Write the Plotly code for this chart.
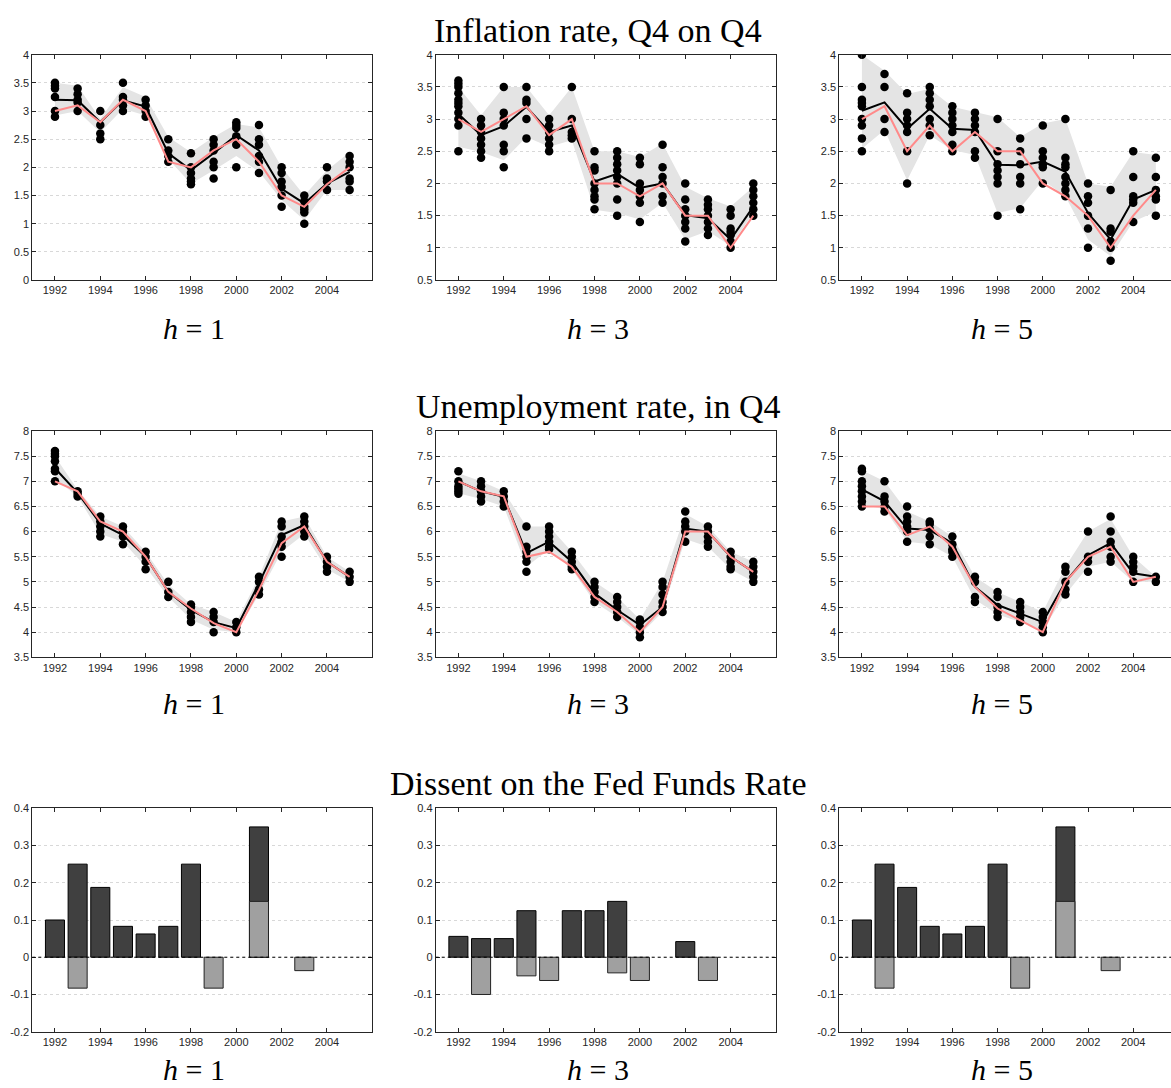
import plotly.graph_objects as go

years = list(range(1992, 2006))
xtick_vals = [1992, 1994, 1996, 1998, 2000, 2002, 2004]
xtick_text = ["1992", "1994", "1996", "1998", "2000", "2002", "2004"]

row_titles = ["Inflation rate, Q4 on Q4", "Unemployment rate, in Q4", "Dissent on the Fed Funds Rate"]
col_labels = ["<i>h</i> = 1", "<i>h</i> = 3", "<i>h</i> = 5"]

# ---------------- Inflation, h=1 ----------------
infl_h1_points = [
    [3.5, 3.45, 3.4, 3.25, 3.0, 2.9], [3.4, 3.3, 3.2, 3.15, 3.0], [3.0, 2.75, 2.6, 2.5],
    [3.5, 3.25, 3.2, 3.1, 3.0], [3.2, 3.1, 3.0, 2.9], [2.5, 2.3, 2.2, 2.1],
    [2.25, 2.0, 1.9, 1.8, 1.75, 1.7], [2.5, 2.4, 2.3, 2.1, 2.0, 1.8], [2.8, 2.75, 2.7, 2.55, 2.4, 2.0],
    [2.75, 2.5, 2.4, 2.2, 2.1, 1.9], [2.0, 1.9, 1.75, 1.65, 1.5, 1.3], [1.5, 1.4, 1.3, 1.25, 1.2, 1.0],
    [2.0, 1.8, 1.75, 1.6], [2.2, 2.1, 2.0, 1.8, 1.75, 1.6]]
infl_h1_mean = [3.2, 3.19, 2.8, 3.19, 3.08, 2.25, 1.95, 2.25, 2.57, 2.3, 1.62, 1.36, 1.71, 1.92]
infl_h1_actual = [3.0, 3.1, 2.8, 3.2, 3.0, 2.1, 2.0, 2.3, 2.5, 2.1, 1.5, 1.3, 1.7, 2.0]
infl_h1_hi = [3.5, 3.45, 2.86, 3.42, 3.25, 2.54, 2.27, 2.54, 2.77, 2.71, 2.0, 1.5, 1.95, 2.27]
infl_h1_lo = [2.92, 3.0, 2.62, 3.04, 2.92, 2.15, 1.71, 1.95, 2.2, 1.92, 1.42, 1.06, 1.6, 1.6]

# ---------------- Inflation, h=3 ----------------
infl_h3_points = [
    [3.6, 3.55, 3.5, 3.4, 3.3, 3.25, 3.2, 3.1, 3.0, 2.9, 2.5], [3.0, 2.9, 2.8, 2.7, 2.6, 2.5, 2.4],
    [3.5, 3.1, 3.0, 2.9, 2.6, 2.5, 2.25], [3.5, 3.3, 3.25, 3.0, 2.7], [3.0, 2.9, 2.8, 2.7, 2.6, 2.5],
    [3.5, 3.0, 2.8, 2.75, 2.7], [2.5, 2.25, 2.2, 2.0, 1.9, 1.8, 1.75, 1.6],
    [2.5, 2.4, 2.3, 2.2, 2.1, 2.0, 1.75, 1.5], [2.4, 2.3, 2.0, 1.9, 1.8, 1.7, 1.4],
    [2.6, 2.25, 2.1, 2.0, 1.8, 1.7], [2.0, 1.75, 1.6, 1.5, 1.4, 1.3, 1.1],
    [1.75, 1.67, 1.6, 1.5, 1.4, 1.3, 1.2], [1.6, 1.5, 1.3, 1.25, 1.2, 1.1, 1.0],
    [2.0, 1.9, 1.8, 1.7, 1.6, 1.5]]
infl_h3_mean = [3.08, 2.75, 2.89, 3.19, 2.8, 2.9, 2.03, 2.15, 1.93, 2.0, 1.51, 1.46, 1.13, 1.64]
infl_h3_actual = [3.0, 2.8, 3.0, 3.2, 2.75, 3.0, 2.0, 2.0, 1.8, 2.0, 1.5, 1.5, 1.0, 1.5]
infl_h3_hi = [3.5, 3.06, 3.5, 3.5, 3.06, 3.5, 2.5, 2.5, 2.41, 2.62, 1.95, 1.77, 1.64, 1.95]
infl_h3_lo = [2.57, 2.49, 2.36, 2.72, 2.57, 2.67, 1.59, 1.54, 1.44, 1.7, 1.13, 1.26, 1.03, 1.54]

# ---------------- Inflation, h=5 ----------------
infl_h5_points = [
    [4.0, 3.5, 3.3, 3.25, 3.2, 3.0, 2.9, 2.7, 2.5], [3.7, 3.5, 3.0, 2.8],
    [3.4, 3.1, 3.0, 2.9, 2.8, 2.5, 2.0], [3.5, 3.4, 3.3, 3.2, 3.0, 2.9, 2.75],
    [3.2, 3.1, 3.0, 2.9, 2.8, 2.6, 2.5], [3.1, 3.0, 2.9, 2.8, 2.5, 2.4],
    [3.0, 2.5, 2.3, 2.2, 2.1, 2.0, 1.5], [2.7, 2.5, 2.3, 2.1, 2.0, 1.6],
    [2.9, 2.5, 2.4, 2.3, 2.25, 2.0], [3.0, 2.4, 2.3, 2.25, 2.1, 2.0, 1.9, 1.8],
    [2.0, 1.8, 1.7, 1.5, 1.3, 1.0], [1.9, 1.3, 1.25, 1.1, 1.0, 0.8],
    [2.5, 2.1, 1.8, 1.75, 1.7, 1.4], [2.4, 2.1, 1.9, 1.8, 1.75, 1.5]]
infl_h5_mean = [3.13, 3.26, 2.85, 3.16, 2.85, 2.83, 2.29, 2.28, 2.34, 2.18, 1.54, 1.13, 1.75, 1.9]
infl_h5_actual = [3.0, 3.2, 2.5, 2.9, 2.5, 2.8, 2.5, 2.5, 2.0, 1.8, 1.5, 1.0, 1.5, 1.9]
infl_h5_hi = [4.0, 3.75, 3.39, 3.47, 3.19, 3.11, 3.03, 2.72, 2.93, 3.0, 2.0, 1.95, 2.49, 2.44]
infl_h5_lo = [2.54, 2.83, 2.05, 2.75, 2.52, 2.44, 1.54, 1.62, 2.05, 1.8, 1.13, 0.87, 1.41, 1.56]

# ---------------- Unemployment, h=1 ----------------
unemp_h1_points = [
    [7.6, 7.55, 7.5, 7.4, 7.25, 7.2, 7.0], [6.8, 6.75, 6.7], [6.3, 6.2, 6.1, 6.0, 5.9],
    [6.1, 6.0, 5.9, 5.75], [5.6, 5.5, 5.4, 5.25], [5.0, 4.8, 4.7], [4.55, 4.5, 4.4, 4.3, 4.2],
    [4.4, 4.3, 4.2, 4.0], [4.2, 4.1, 4.0], [5.1, 5.0, 4.85, 4.75], [6.2, 6.1, 5.9, 5.8, 5.7, 5.5],
    [6.3, 6.2, 6.1, 6.0, 5.9], [5.5, 5.4, 5.3, 5.2], [5.2, 5.1, 5.0]]
unemp_h1_mean = [7.26, 6.77, 6.16, 5.93, 5.5, 4.8, 4.44, 4.2, 4.08, 4.97, 5.93, 6.13, 5.4, 5.1]
unemp_h1_actual = [7.0, 6.8, 6.2, 6.0, 5.5, 4.8, 4.47, 4.18, 4.0, 4.84, 5.77, 6.1, 5.4, 5.1]
unemp_h1_hi = [7.5, 6.83, 6.3, 6.1, 5.6, 4.95, 4.55, 4.4, 4.2, 5.1, 6.2, 6.3, 5.5, 5.2]
unemp_h1_lo = [7.05, 6.7, 5.95, 5.8, 5.3, 4.7, 4.25, 4.05, 4.0, 4.75, 5.6, 5.95, 5.25, 5.0]

# ---------------- Unemployment, h=3 ----------------
unemp_h3_points = [
    [7.2, 7.0, 6.9, 6.85, 6.8, 6.75], [7.0, 6.9, 6.8, 6.7, 6.6], [6.8, 6.7, 6.6, 6.5],
    [6.1, 5.7, 5.6, 5.5, 5.4, 5.2], [6.1, 6.0, 5.9, 5.8, 5.7, 5.65], [5.6, 5.5, 5.4, 5.3, 5.25],
    [5.0, 4.9, 4.8, 4.7, 4.6], [4.7, 4.6, 4.5, 4.4, 4.3], [4.25, 4.2, 4.1, 4.0, 3.9],
    [5.0, 4.9, 4.75, 4.6, 4.5, 4.4], [6.4, 6.2, 6.1, 6.0, 5.8], [6.1, 6.0, 5.9, 5.8, 5.7],
    [5.6, 5.5, 5.4, 5.3, 5.25], [5.4, 5.3, 5.2, 5.1, 5.0]]
unemp_h3_mean = [7.0, 6.8, 6.69, 5.57, 5.8, 5.4, 4.77, 4.44, 4.14, 4.5, 6.06, 6.0, 5.5, 5.2]
unemp_h3_actual = [7.0, 6.8, 6.7, 5.5, 5.6, 5.3, 4.7, 4.4, 4.0, 4.5, 6.0, 6.0, 5.5, 5.2]
unemp_h3_hi = [7.16, 7.0, 6.8, 6.1, 6.1, 5.6, 5.0, 4.7, 4.25, 5.0, 6.35, 6.1, 5.6, 5.4]
unemp_h3_lo = [6.76, 6.65, 6.5, 5.3, 5.65, 5.25, 4.6, 4.3, 3.95, 4.4, 5.85, 5.7, 5.25, 5.0]

# ---------------- Unemployment, h=5 ----------------
unemp_h5_points = [
    [7.25, 7.2, 7.0, 6.9, 6.8, 6.7, 6.6, 6.5], [7.0, 6.7, 6.6, 6.5, 6.4],
    [6.5, 6.3, 6.2, 6.1, 6.0, 5.8], [6.2, 6.15, 6.05, 5.9, 5.75], [5.9, 5.75, 5.65, 5.6, 5.5],
    [5.1, 5.0, 4.7, 4.6], [4.8, 4.7, 4.5, 4.4, 4.3], [4.6, 4.5, 4.4, 4.3, 4.2],
    [4.4, 4.3, 4.2, 4.1, 4.0], [5.3, 5.2, 5.0, 4.85, 4.75], [6.0, 5.5, 5.4, 5.2],
    [6.3, 6.0, 5.8, 5.7, 5.5, 5.4], [5.5, 5.4, 5.3, 5.2, 5.0], [5.1, 5.0]]
unemp_h5_mean = [6.84, 6.6, 6.06, 6.03, 5.77, 4.9, 4.54, 4.37, 4.2, 5.0, 5.53, 5.77, 5.17, 5.1]
unemp_h5_actual = [6.5, 6.5, 5.93, 6.1, 5.7, 4.9, 4.47, 4.24, 4.0, 5.0, 5.5, 5.7, 5.0, 5.1]
unemp_h5_hi = [7.22, 7.0, 6.4, 6.2, 5.9, 5.1, 4.8, 4.6, 4.4, 5.3, 6.0, 6.25, 5.5, 5.1]
unemp_h5_lo = [6.53, 6.45, 5.8, 5.75, 5.5, 4.65, 4.35, 4.2, 4.05, 4.75, 5.3, 5.4, 5.0, 5.0]

# ---------------- Dissent on the Fed Funds Rate ----------------
dissent_h1_up = [0.1, 0.25, 0.1875, 0.083, 0.0625, 0.083, 0.25, 0, 0, 0.35, 0, 0, 0, 0]
dissent_h1_down = [0, -0.083, 0, 0, 0, 0, 0, -0.083, 0, 0.15, 0, -0.036, 0, 0]
dissent_h3_up = [0.056, 0.05, 0.05, 0.125, 0, 0.125, 0.125, 0.15, 0, 0, 0.042, 0, 0, 0]
dissent_h3_down = [0, -0.1, 0, -0.05, -0.0625, 0, 0, -0.042, -0.0625, 0, 0, -0.0625, 0, 0]
dissent_h5_up = [0.1, 0.25, 0.1875, 0.083, 0.0625, 0.083, 0.25, 0, 0, 0.35, 0, 0, 0, 0]
dissent_h5_down = [0, -0.083, 0, 0, 0, 0, 0, -0.083, 0, 0.15, 0, -0.036, 0, 0]

infl_ticks_h1 = [0, 0.5, 1, 1.5, 2, 2.5, 3, 3.5, 4]
infl_ticks = [0.5, 1, 1.5, 2, 2.5, 3, 3.5, 4]
unemp_ticks = [3.5, 4, 4.5, 5, 5.5, 6, 6.5, 7, 7.5, 8]
dissent_ticks = [-0.2, -0.1, 0, 0.1, 0.2, 0.3, 0.4]
dissent_tick_text = ["-0.2", "-0.1", "0", "0.1", "0.2", "0.3", "0.4"]

# ---------------- layout geometry ----------------
W, H = 1171, 1088
col_px = [(32.3, 372.3), (435.7, 776.0), (839.3, 1171.0)]
col_xrange = [[1991, 2006], [1991, 2006], [1991, 2005.67]]
row_px = [(54.7, 280.0), (431.0, 657.3), (808.3, 1031.7)]

AX = "#262626"
TICKFONT = dict(family="Liberation Sans, Arial, sans-serif", size=11, color=AX)
SERIF = "Liberation Serif, Times New Roman, serif"

fig = go.Figure()

line_panels = [
    (infl_h1_points, infl_h1_mean, infl_h1_actual, infl_h1_hi, infl_h1_lo, infl_ticks_h1, [0, 4]),
    (infl_h3_points, infl_h3_mean, infl_h3_actual, infl_h3_hi, infl_h3_lo, infl_ticks, [0.5, 4]),
    (infl_h5_points, infl_h5_mean, infl_h5_actual, infl_h5_hi, infl_h5_lo, infl_ticks, [0.5, 4]),
    (unemp_h1_points, unemp_h1_mean, unemp_h1_actual, unemp_h1_hi, unemp_h1_lo, unemp_ticks, [3.5, 8]),
    (unemp_h3_points, unemp_h3_mean, unemp_h3_actual, unemp_h3_hi, unemp_h3_lo, unemp_ticks, [3.5, 8]),
    (unemp_h5_points, unemp_h5_mean, unemp_h5_actual, unemp_h5_hi, unemp_h5_lo, unemp_ticks, [3.5, 8]),
]
bar_panels = [
    (dissent_h1_up, dissent_h1_down),
    (dissent_h3_up, dissent_h3_down),
    (dissent_h5_up, dissent_h5_down),
]

layout_axes = {}
shapes = []

for idx in range(9):
    r, c = divmod(idx, 3)
    n = idx + 1
    xa = "x" if n == 1 else "x%d" % n
    ya = "y" if n == 1 else "y%d" % n
    x0, x1 = col_px[c]
    y0, y1 = row_px[r]

    if r < 2:
        pts, mean, actual, hi, lo, yt, yr = line_panels[idx]
        ytext = ["%g" % v for v in yt]
        fig.add_trace(go.Scatter(x=years + years[::-1], y=hi + lo[::-1], fill="toself",
                                 fillcolor="#e4e4e4", line=dict(width=0), mode="lines",
                                 hoverinfo="skip", xaxis=xa, yaxis=ya))
        px, py = [], []
        for yr_, vals in zip(years, pts):
            for v in vals:
                px.append(yr_)
                py.append(v)
        fig.add_trace(go.Scatter(x=px, y=py, mode="markers",
                                 marker=dict(color="black", size=8.5, symbol="circle",
                                             line=dict(width=0)),
                                 xaxis=xa, yaxis=ya))
        fig.add_trace(go.Scatter(x=years, y=mean, mode="lines",
                                 line=dict(color="black", width=2), xaxis=xa, yaxis=ya))
        fig.add_trace(go.Scatter(x=years, y=actual, mode="lines",
                                 line=dict(color="#ff8a8a", width=2), xaxis=xa, yaxis=ya))
    else:
        up, down = bar_panels[c]
        yt = dissent_ticks
        ytext = dissent_tick_text
        yr = [-0.2, 0.4]
        fig.add_trace(go.Bar(x=years, y=[v if v != 0 else None for v in up], width=0.84,
                             marker=dict(color="#404040", line=dict(color="black", width=1)),
                             xaxis=xa, yaxis=ya))
        fig.add_trace(go.Bar(x=years, y=[v if v != 0 else None for v in down], width=0.84,
                             marker=dict(color="#a0a0a0", line=dict(color="#222222", width=1)),
                             xaxis=xa, yaxis=ya))
        shapes.append(dict(type="line", xref="%s domain" % xa, yref=ya, x0=0, x1=1, y0=0, y1=0,
                           line=dict(color="black", width=1, dash="dot"), layer="above"))

    xkey = "xaxis" if n == 1 else "xaxis%d" % n
    ykey = "yaxis" if n == 1 else "yaxis%d" % n
    layout_axes[xkey] = dict(
        domain=[x0 / W, x1 / W], anchor=ya, range=col_xrange[c], automargin=False,
        tickvals=xtick_vals, ticktext=xtick_text, ticks="inside", ticklen=4,
        tickcolor=AX, showline=True, linecolor=AX, linewidth=1, mirror="ticks",
        showgrid=False, zeroline=False, tickfont=TICKFONT, fixedrange=True)
    layout_axes[ykey] = dict(
        domain=[1 - y1 / H, 1 - y0 / H], anchor=xa, range=yr, automargin=False,
        tickvals=yt, ticktext=ytext, ticks="inside", ticklen=4, tickcolor=AX,
        showline=True, linecolor=AX, linewidth=1, mirror=("ticks" if c < 2 else False),
        showgrid=True, gridcolor="#d8d8d8", griddash="dot", gridwidth=1,
        zeroline=False, tickfont=TICKFONT, fixedrange=True)

annotations = []
title_y = [30, 406, 783]
label_y = [328, 703, None]
label_x = [194, 598, 1002]
for r in range(3):
    annotations.append(dict(text=row_titles[r], x=598 / W, y=1 - title_y[r] / H,
                            xref="paper", yref="paper", xanchor="center", yanchor="middle",
                            showarrow=False, font=dict(family=SERIF, size=34, color="black")))
    for c in range(3):
        if label_y[r] is None:
            ypos, yanc = 0.0, "bottom"
        else:
            ypos, yanc = 1 - label_y[r] / H, "middle"
        annotations.append(dict(text=col_labels[c], x=label_x[c] / W, y=ypos,
                                xref="paper", yref="paper", xanchor="center", yanchor=yanc,
                                showarrow=False, font=dict(family=SERIF, size=30, color="black")))

fig.update_layout(
    width=W, height=H, margin=dict(l=0, r=0, t=0, b=0, autoexpand=False),
    paper_bgcolor="white", plot_bgcolor="white", showlegend=False,
    barmode="overlay", annotations=annotations, shapes=shapes,
    **layout_axes)

fig.write_html("out.html", config={"displayModeBar": False},
               post_script="document.body.style.margin='0';document.body.style.overflow='hidden';")
